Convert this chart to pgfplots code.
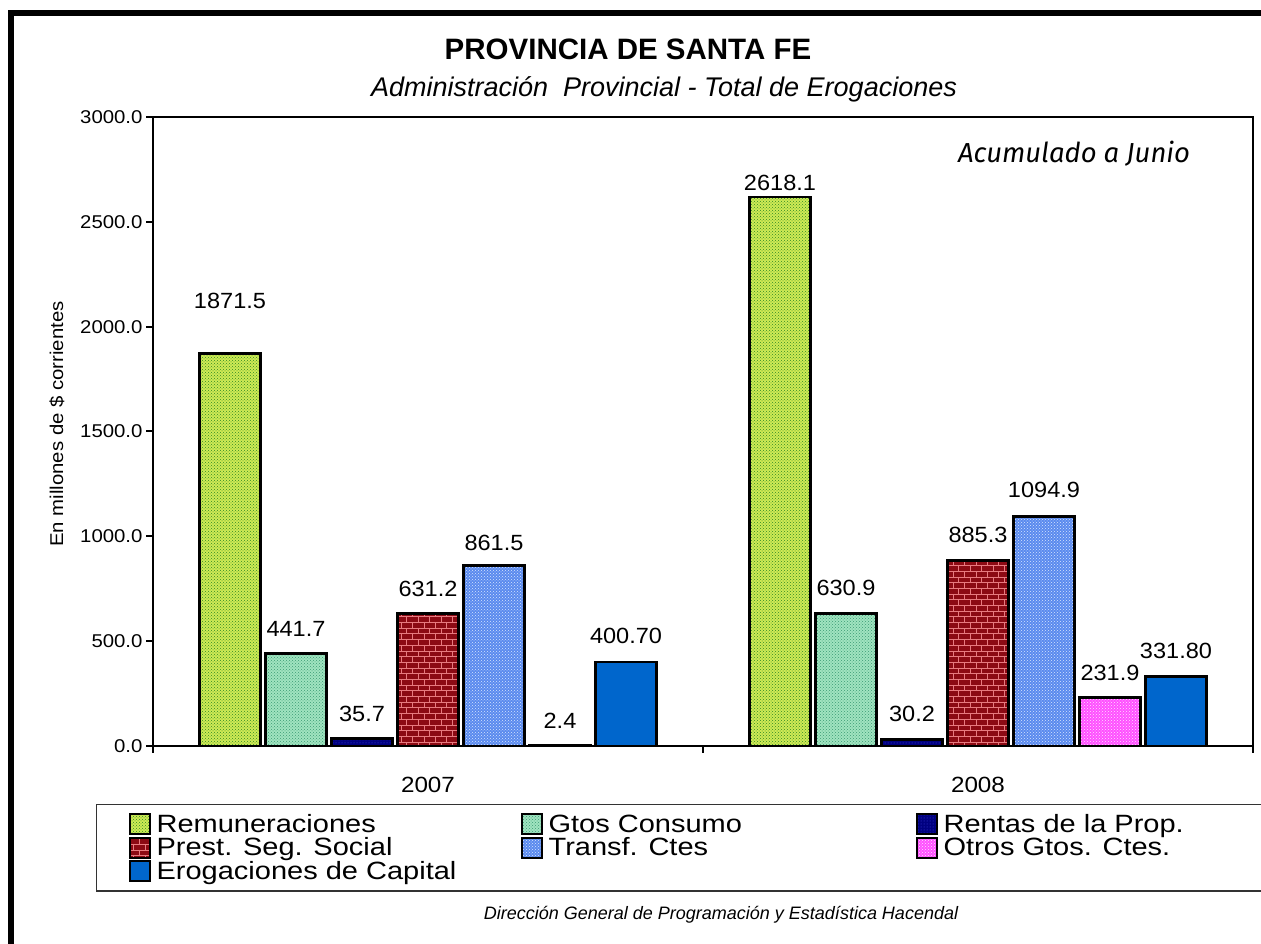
\documentclass[border=0pt]{standalone}
\usepackage{fontspec}
\setmainfont{Liberation Sans}
\newfontfamily\tickfont[FakeStretch=1.1]{Liberation Sans}
\newfontfamily\labfont[FakeStretch=1.07]{Liberation Sans}
\newfontfamily\legfont[FakeStretch=1.16]{Liberation Sans}
\newfontfamily\xfont[FakeStretch=1.1]{Liberation Sans}
\newfontfamily\acufont{Fira Sans}
\usepackage{pgfplots}
\pgfplotsset{compat=1.18}
\usepackage{pgfplotstable}
\usetikzlibrary{patterns}

\definecolor{remfill}{HTML}{CFEA55}
\definecolor{remdot}{HTML}{2E8A22}
\definecolor{gtofill}{HTML}{A0E4C0}
\definecolor{gtodot}{HTML}{3A9A74}
\definecolor{renfill}{HTML}{000080}
\definecolor{rendot}{HTML}{4040E0}
\definecolor{prefill}{HTML}{8C0A14}
\definecolor{predot}{HTML}{E87A80}
\definecolor{trafill}{HTML}{5A8AEE}
\definecolor{tradot}{HTML}{D8E6FF}
\definecolor{otrfill}{HTML}{FF50FF}
\definecolor{otrdot}{HTML}{FFE0FF}
\definecolor{capfill}{HTML}{0066CC}

\pgfplotstableread{
x y lbl off
0 1871.5 1871.5 45
1 2618.1 2618.1 7
}\rem
\pgfplotstableread{
x y lbl off
0 441.7 441.7 17
1 630.9 630.9 18
}\gto
\pgfplotstableread{
x y lbl off
0 35.7 35.7 17
1 30.2 30.2 18
}\ren
\pgfplotstableread{
x y lbl off
0 631.2 631.2 17
1 885.3 885.3 18
}\pre
\pgfplotstableread{
x y lbl off
0 861.5 861.5 15
1 1094.9 1094.9 19
}\tra
\pgfplotstableread{
x y lbl off
0 2.4 2.4 17
1 231.9 231.9 17
}\otr
\pgfplotstableread{
x y lbl off
0 400.70 400.70 18
1 331.80 331.80 18
}\cap

\pgfplotsset{
  barstyle/.style={draw=black, line width=2.5pt,
    legend image code/.code={\draw[##1, line width=2pt] (1pt,-10pt) rectangle (21pt,10pt);}},
}

\begin{document}
\begin{tikzpicture}
\path[use as bounding box] (0pt,0pt) rectangle (1261pt,944pt);
\draw[line width=6pt, line join=miter] (11pt,-10pt) -- (11pt,930.5pt) -- (1275pt,930.5pt);
\node[font=\bfseries\fontsize{29.5}{30}\selectfont] at (628pt,895pt) {PROVINCIA DE SANTA FE};
\node[font=\itshape\fontsize{27}{28}\selectfont, anchor=base] at (664pt,847pt) {Administración\ \ Provincial - Total de Erogaciones};
\node[font=\itshape\fontsize{18}{20}\selectfont, anchor=base] at (721pt,24pt) {Dirección General de Programación y Estadística Hacendal};
\node[anchor=base, inner sep=0pt] at (1074pt,781pt) {\resizebox{232pt}{!}{\acufont\itshape\fontsize{22}{24}\selectfont Acumulado a Junio}};
\node[font=\xfont\fontsize{18.5}{20}\selectfont, rotate=90] at (57pt,520pt) {En millones de \$ corrientes};
\begin{axis}[
  at={(153pt,198pt)}, anchor=south west,
  scale only axis, width=1100pt, height=629pt,
  xmin=-0.5, xmax=1.5, ymin=0, ymax=3000,
  ybar=5pt, bar width=61pt,
  axis line style={line width=2.5pt},
  tick style={line width=2pt, black},
  major tick length=7pt,
  tick align=outside,
  xtick={-0.5,0.5,1.5}, xticklabels={},
  extra x ticks={0,1}, extra x tick labels={2007,2008},
  extra x tick style={major tick length=0pt, xticklabel style={anchor=north, yshift=-28pt}},
  xticklabel style={font=\xfont\fontsize{22}{24}\selectfont},
  ytick={0,500,...,3000},
  xtick pos=lower, ytick pos=left,
  yticklabel style={font=\tickfont\fontsize{18.5}{20}\selectfont},
  /pgf/number format/assume math mode=true,
  y tick label style={/pgf/number format/.cd, fixed, fixed zerofill, precision=1, 1000 sep={}},
  nodes near coords, point meta=explicit symbolic,
  visualization depends on={\thisrow{off}\as\myoff},
  nodes near coords style={font=\labfont\fontsize{22}{24}\selectfont, anchor=base, inner sep=0pt, yshift=\myoff pt, text=black},
  legend columns=3,
  legend cell align=left,
  legend style={at={(axis description cs:-0.0518,-0.0922)}, anchor=north west,
    draw=black!80, line width=1.2pt, inner xsep=32pt, inner ysep=8pt,
    column sep=0pt, row sep=0pt,
    font=\legfont\fontsize{25}{23.5}\selectfont,
    nodes={inner sep=0pt, text height=19.5pt, text depth=4pt}},
]
\addplot[barstyle, fill=remfill, postaction={pattern=crosshatch dots, pattern color=remdot}] table[x=x,y=y,meta=lbl] {\rem};
\addlegendentry{\makebox[370pt][l]{\hspace{6pt}Remuneraciones}}
\addplot[barstyle, fill=gtofill, postaction={pattern=crosshatch dots, pattern color=gtodot}] table[x=x,y=y,meta=lbl] {\gto};
\addlegendentry{\makebox[373pt][l]{\hspace{6pt}Gtos Consumo}}
\addplot[barstyle, fill=renfill, postaction={pattern=dots, pattern color=rendot}] table[x=x,y=y,meta=lbl] {\ren};
\addlegendentry{\makebox[380pt][l]{\hspace{6pt}Rentas de la Prop.}}
\addplot[barstyle, fill=prefill, postaction={pattern=bricks, pattern color=predot}] table[x=x,y=y,meta=lbl] {\pre};
\addlegendentry{\makebox[370pt][l]{\hspace{6pt}Prest. Seg. Social}}
\addplot[barstyle, fill=trafill, postaction={pattern=crosshatch dots, pattern color=tradot}] table[x=x,y=y,meta=lbl] {\tra};
\addlegendentry{\makebox[373pt][l]{\hspace{6pt}Transf. Ctes}}
\addplot[barstyle, fill=otrfill, postaction={pattern=crosshatch dots, pattern color=otrdot}] table[x=x,y=y,meta=lbl] {\otr};
\addlegendentry{\makebox[380pt][l]{\hspace{6pt}Otros Gtos. Ctes.}}
\addplot[barstyle, fill=capfill] table[x=x,y=y,meta=lbl] {\cap};
\addlegendentry{\makebox[370pt][l]{\hspace{6pt}Erogaciones de Capital}}
\end{axis}
\end{tikzpicture}
\end{document}
